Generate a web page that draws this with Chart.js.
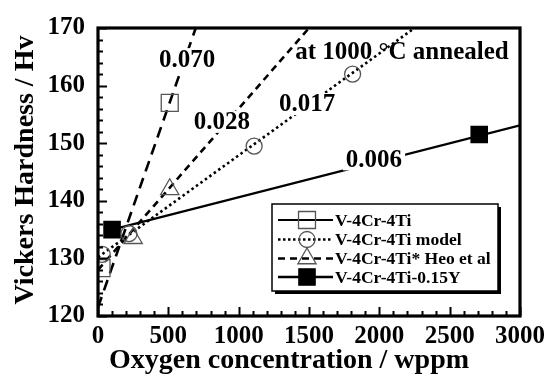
<!DOCTYPE html>
<html><head><meta charset="utf-8">
<script src="https://cdn.jsdelivr.net/npm/chart.js@4/dist/chart.umd.min.js"></script>
<style>html,body{margin:0;padding:0;background:#fff}</style>
</head><body>
<canvas id="c" width="554" height="377"></canvas>
<script>
// ---- data ----
const xTickValues = [0, 500, 1000, 1500, 2000, 2500, 3000];
const yTickValues = [120, 130, 140, 150, 160, 170];
const xTitle = 'Oxygen concentration / wppm';
const yTitle = 'Vickers Hardness / Hv';
const seriesNames = ['V-4Cr-4Ti', 'V-4Cr-4Ti model', 'V-4Cr-4Ti* Heo et al', 'V-4Cr-4Ti-0.15Y'];
const v4Points    = [{x: 25, y: 128.3}, {x: 510, y: 157}];
const modelPoints = [{x: 30, y: 130.7}, {x: 220, y: 134.3}, {x: 1110, y: 149.5}, {x: 1810, y: 162}];
const heoPoints   = [{x: 250, y: 133.5}, {x: 510, y: 142}];
const yPoints     = [{x: 100, y: 135}, {x: 2710, y: 151.5}];
const fit070 = [{x: 0, y: 121.5}, {x: 695, y: 170}];
const fit028 = [{x: 0, y: 128}, {x: 1500, y: 170}];
const fit017 = [{x: 0, y: 130.2}, {x: 2250, y: 170}];
const fit006 = [{x: 100, y: 135}, {x: 3000, y: 153.1}];
const noteTexts = ['0.070', '0.028', '0.017', '0.006', 'at 1000 °C annealed'];
const noteX = [633, 881, 1486, 1962, 2161];
const noteY = [164.6, 153.7, 156.8, 147.2, 165.9];
const noteMask = [true, true, true, true, false];

const FONT = '"Liberation Serif", "Times New Roman", serif';
const openCol = '#555';

const lineDs = (data, dash, w) => ({type: 'line', data, borderColor: '#000', borderWidth: w, borderDash: dash,
  pointRadius: 0, fill: false, tension: 0, showLine: true, order: 2});
const markDs = (label, data, style, r, fill, stroke) => ({type: 'scatter', label, data, pointStyle: style,
  pointRadius: r, pointHoverRadius: r, pointBackgroundColor: fill, pointBorderColor: stroke, pointBorderWidth: 1.3, showLine: false, order: 1});

const datasets = [
  lineDs(fit070, [11, 7], 2.6),
  lineDs(fit028, [7, 5], 2.6),
  lineDs(fit017, [2.5, 3], 2.6),
  lineDs(fit006, [], 2.2),
  markDs(seriesNames[0], v4Points, 'rect', 12, 'rgba(0,0,0,0)', openCol),
  markDs(seriesNames[1], modelPoints, 'circle', 8, 'rgba(0,0,0,0)', openCol),
  markDs(seriesNames[2], heoPoints, 'triangle', 10.5, 'rgba(0,0,0,0)', openCol),
  markDs(seriesNames[3], yPoints, 'rect', 11.5, '#000', '#000'),
];
const legendStyles = [
  {dash: [], w: 1.8, ds: 4},
  {dash: [2.5, 2.5], w: 2.4, ds: 5},
  {dash: [7, 5], w: 2.4, ds: 6},
  {dash: [], w: 2.4, ds: 7},
];

const deco = {
  id: 'deco',
  afterDatasetsDraw(chart) {
    const {ctx, chartArea: a, scales: {x, y}} = chart;
    ctx.save();
    // slope notes
    ctx.font = 'bold 25px ' + FONT;
    ctx.textAlign = 'center'; ctx.textBaseline = 'middle';
    noteTexts.forEach((t, i) => {
      const px = x.getPixelForValue(noteX[i]), py = y.getPixelForValue(noteY[i]);
      const w = ctx.measureText(t).width;
      if (noteMask[i]) { ctx.fillStyle = '#fff'; ctx.fillRect(px - w / 2 - 3, py - 11, w + 6, 22); }
      ctx.fillStyle = '#000';
      ctx.fillText(t, px, py + 1);
    });
    // inward ticks
    ctx.strokeStyle = '#000'; ctx.lineWidth = 2;
    ctx.beginPath();
    for (let v = 0; v <= 3000; v += 100) {
      const px = Math.round(x.getPixelForValue(v)) + 0.5;
      const len = v % 500 === 0 ? 9 : 5;
      ctx.moveTo(px, a.bottom); ctx.lineTo(px, a.bottom - len);
    }
    for (let v = 120; v <= 170; v += 2) {
      const py = Math.round(y.getPixelForValue(v)) + 0.5;
      const len = v % 10 === 0 ? 9 : 5;
      ctx.moveTo(a.left, py); ctx.lineTo(a.left + len, py);
    }
    ctx.stroke();
    // frame
    ctx.lineWidth = 3.2;
    ctx.strokeRect(a.left, a.top, a.right - a.left, a.bottom - a.top);
    // axis titles
    ctx.fillStyle = '#000';
    ctx.font = 'bold 28px ' + FONT;
    ctx.textAlign = 'center'; ctx.textBaseline = 'middle';
    ctx.fillText(xTitle, 289, 361);
    ctx.save();
    ctx.translate(26, 170); ctx.rotate(-Math.PI / 2);
    ctx.fillText(yTitle, 0, 0);
    ctx.restore();
    // legend
    const L = 272, T = 204, R = 498, B = 291;
    ctx.fillStyle = '#000';
    ctx.fillRect(L + 3, T + 3, R - L, B - T);
    ctx.fillStyle = '#fff';
    ctx.fillRect(L, T, R - L, B - T);
    ctx.lineWidth = 1.5; ctx.strokeStyle = '#000';
    ctx.strokeRect(L, T, R - L, B - T);
    const rows = [220, 239.5, 258.5, 277];
    ctx.font = 'bold 17.5px ' + FONT;
    ctx.textAlign = 'left'; ctx.textBaseline = 'middle';
    legendStyles.forEach((s, i) => {
      const ry = rows[i];
      const ds = chart.data.datasets[s.ds];
      ctx.setLineDash(s.dash); ctx.lineWidth = s.w; ctx.strokeStyle = '#000';
      ctx.beginPath(); ctx.moveTo(278, ry); ctx.lineTo(333, ry); ctx.stroke();
      ctx.setLineDash([]);
      ctx.fillStyle = ds.pointBackgroundColor; ctx.strokeStyle = ds.pointBorderColor; ctx.lineWidth = 1.3;
      Chart.helpers.drawPoint(ctx, {pointStyle: ds.pointStyle, radius: ds.pointRadius, rotation: 0, borderWidth: 1.3}, 307, ry);
      ctx.fillStyle = '#000';
      ctx.fillText(seriesNames[i], 335, ry + 1);
    });
    ctx.restore();
  }
};

new Chart(document.getElementById('c'), {
  type: 'scatter',
  data: {datasets},
  options: {
    responsive: false, animation: false, devicePixelRatio: 1,
    layout: {padding: {left: 0, right: 34, top: 22, bottom: 0}},
    plugins: {legend: {display: false}, tooltip: {enabled: false}},
    scales: {
      x: {
        type: 'linear', min: 0, max: 3000,
        afterFit: s => { s.height = 61; },
        afterBuildTicks: s => { s.ticks = xTickValues.map(v => ({value: v})); },
        grid: {display: false, drawTicks: false},
        border: {display: false},
        ticks: {color: '#000', font: {family: FONT, size: 25, weight: 'bold'}, padding: 6, maxRotation: 0, autoSkip: false,
          callback: v => String(v)},
        title: {display: false}
      },
      y: {
        type: 'linear', min: 120, max: 170,
        afterFit: s => { s.width = 98; },
        afterBuildTicks: s => { s.ticks = yTickValues.map(v => ({value: v})); },
        grid: {display: false, drawTicks: false},
        border: {display: false},
        ticks: {color: '#000', font: {family: FONT, size: 25, weight: 'bold'}, padding: 13, autoSkip: false,
          callback: v => String(v)},
        title: {display: false}
      }
    }
  },
  plugins: [deco]
});
</script>
</body></html>
